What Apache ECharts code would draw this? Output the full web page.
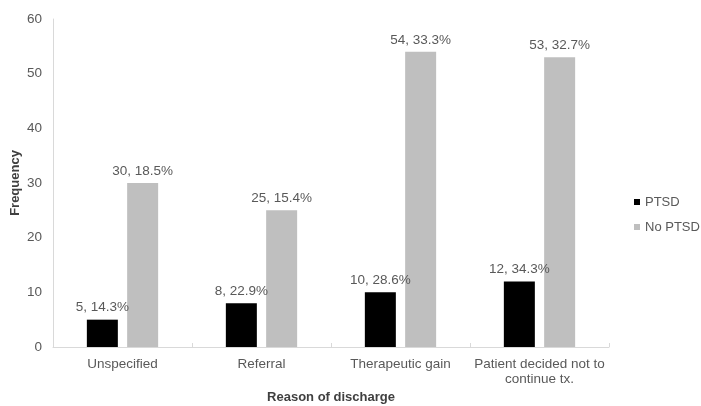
<!DOCTYPE html>
<html>
<head>
<meta charset="utf-8">
<script src="https://cdn.jsdelivr.net/npm/echarts@6/dist/echarts.min.js"></script>
<style>
  html, body { margin: 0; padding: 0; background: #fff; }
  #chart { width: 701px; height: 406px; }
</style>
</head>
<body>
<div id="chart"></div>
<script>
// Reasons of discharge, split by PTSD status
const categories = ['Unspecified', 'Referral', 'Therapeutic gain', 'Patient decided not to\ncontinue tx.'];
const ptsdCounts = [5, 8, 10, 12];
const ptsdPercents = ['14.3%', '22.9%', '28.6%', '34.3%'];
const noPtsdCounts = [30, 25, 54, 53];
const noPtsdPercents = ['18.5%', '15.4%', '33.3%', '32.7%'];
const yTicks = { min: 0, max: 60, interval: 10 };

const font = 'Liberation Sans, Arial, sans-serif';
const chart = echarts.init(document.getElementById('chart'), null, { renderer: 'canvas' });

function labelFor(percents) {
  return {
    show: true,
    position: 'top',
    distance: 5,
    color: '#595959',
    fontFamily: font,
    fontSize: 13.5,
    formatter: p => p.value + ', ' + percents[p.dataIndex]
  };
}

chart.setOption({
  animation: false,
  textStyle: { fontFamily: font },
  grid: { left: 53, right: 92, top: 19, bottom: 59, containLabel: false, outerBoundsMode: 'none' },
  legend: {
    orient: 'vertical',
    left: 634,
    top: 195,
    padding: 0,
    itemWidth: 6,
    itemHeight: 6,
    itemGap: 11,
    icon: 'rect',
    textStyle: { color: '#595959', fontSize: 13, lineHeight: 14, fontFamily: font },
    data: ['PTSD', 'No PTSD']
  },
  xAxis: {
    type: 'category',
    data: categories,
    name: 'Reason of discharge',
    nameLocation: 'middle',
    nameGap: 44,
    nameMoveOverlap: false,
    nameTextStyle: { color: '#404040', fontWeight: 'bold', fontSize: 13, fontFamily: font },
    axisLine: { lineStyle: { color: '#d9d9d9', width: 1 } },
    axisTick: { show: true, inside: true, length: 4, lineStyle: { color: '#d9d9d9' } },
    axisLabel: { color: '#595959', fontSize: 13.5, margin: 10, lineHeight: 15, interval: 0, fontFamily: font }
  },
  yAxis: {
    type: 'value',
    min: yTicks.min,
    max: yTicks.max,
    interval: yTicks.interval,
    name: 'Frequency',
    nameLocation: 'middle',
    nameGap: 31,
    nameRotate: 90,
    nameMoveOverlap: false,
    nameTextStyle: { color: '#404040', fontWeight: 'bold', fontSize: 13, fontFamily: font },
    axisLine: { show: true, lineStyle: { color: '#d9d9d9', width: 1 } },
    axisTick: { show: false },
    splitLine: { show: false },
    axisLabel: { color: '#595959', fontSize: 13.5, margin: 11, fontFamily: font }
  },
  series: [
    {
      name: 'PTSD',
      type: 'bar',
      data: ptsdCounts,
      barWidth: 31,
      barGap: '30%',
      itemStyle: { color: '#000000' },
      label: labelFor(ptsdPercents)
    },
    {
      name: 'No PTSD',
      type: 'bar',
      data: noPtsdCounts,
      barWidth: 31,
      itemStyle: { color: '#bfbfbf' },
      label: labelFor(noPtsdPercents)
    }
  ]
});
</script>
</body>
</html>
